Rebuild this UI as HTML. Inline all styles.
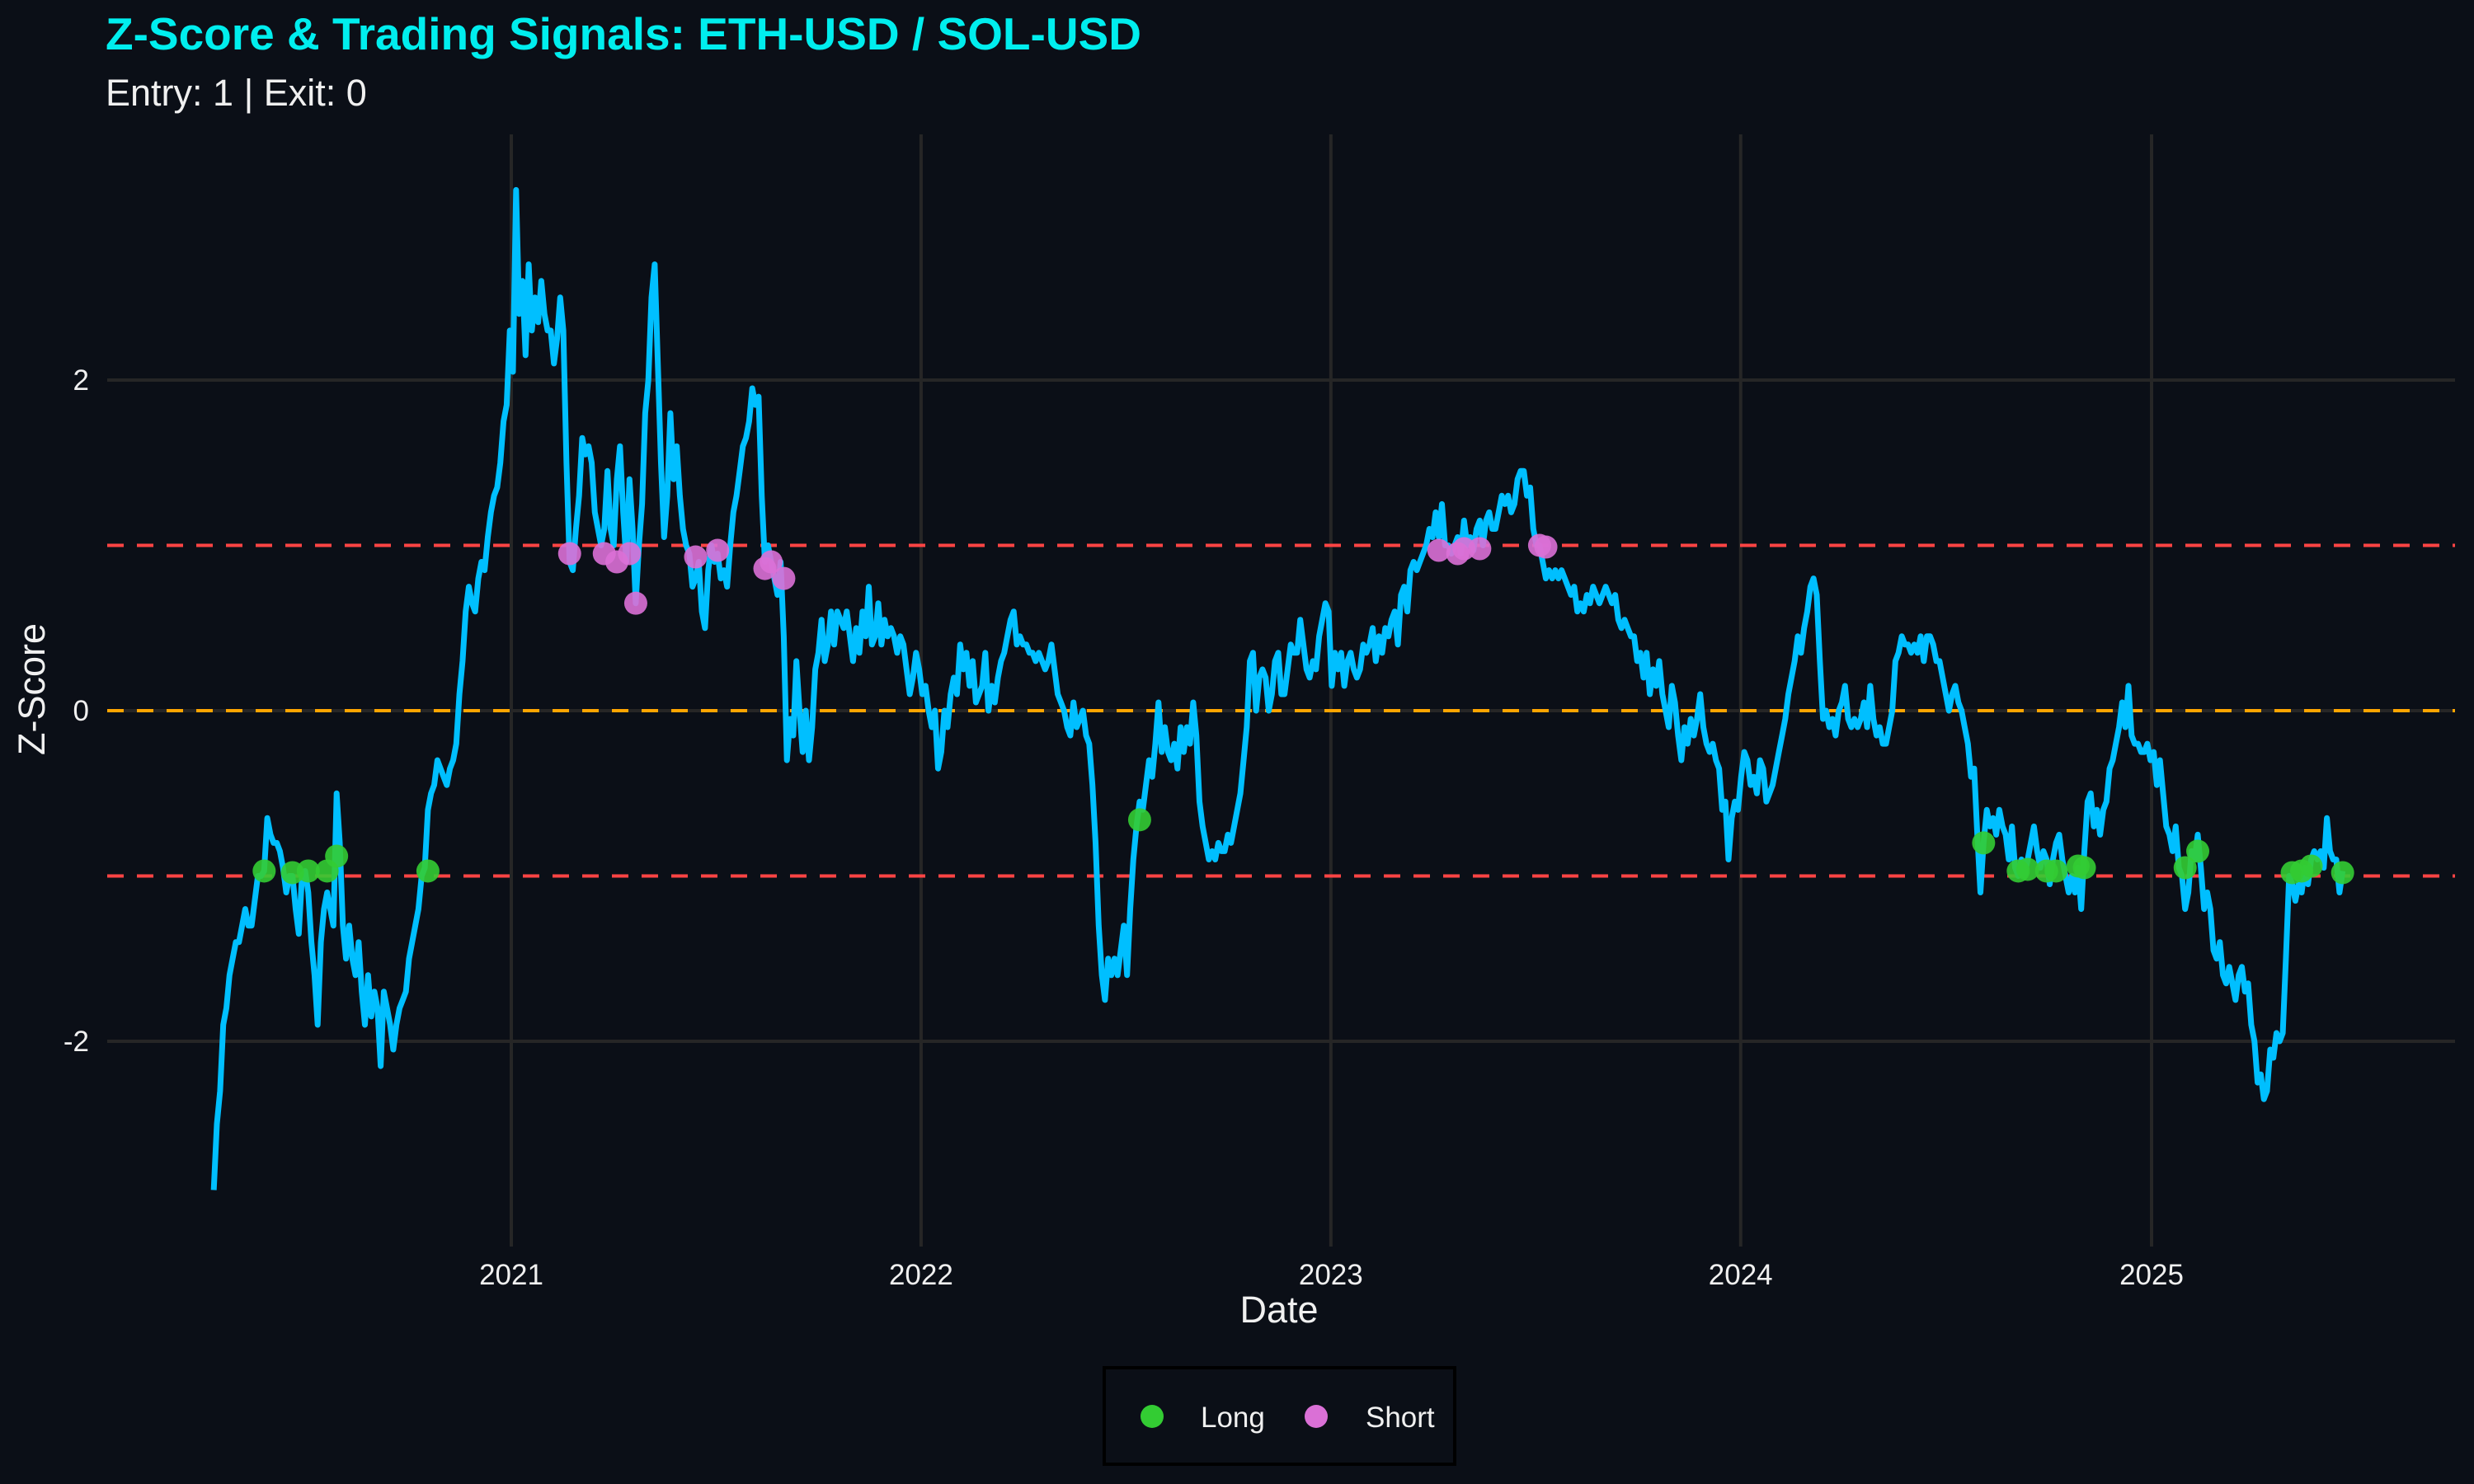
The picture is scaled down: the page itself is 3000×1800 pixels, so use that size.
<!DOCTYPE html>
<html><head><meta charset="utf-8"><title>Z-Score & Trading Signals</title>
<style>
html,body{margin:0;padding:0;background:#0b0f17;}
svg{display:block;font-family:"Liberation Sans",Arial,sans-serif;}
</style></head>
<body>
<svg id="chart" width="3000" height="1800" viewBox="0 0 3000 1800" xmlns="http://www.w3.org/2000/svg">
<rect x="0" y="0" width="3000" height="1800" fill="#0b0f17"/>
<g id="grid"></g>
<g id="refs"></g>
<g id="series"></g>
<g id="points"></g>
<g id="axes"></g>
<text x="128" y="60" font-size="55" font-weight="bold" fill="#00eeee">Z-Score &amp; Trading Signals: ETH-USD / SOL-USD</text>
<text x="128" y="128" font-size="45" fill="#f0f0f0">Entry: 1 | Exit: 0</text>
<text x="1551" y="1604" font-size="45" fill="#f0f0f0" text-anchor="middle">Date</text>
<text x="0" y="0" font-size="45" fill="#f0f0f0" text-anchor="middle" transform="translate(54,836) rotate(-90)">Z-Score</text>
<g>
<rect x="1339" y="1659" width="425" height="117" fill="none" stroke="#000" stroke-width="4"/>
<g>
<circle cx="1397" cy="1718" r="14" fill="#33cc33"/>
<text x="1456" y="1731" font-size="35" fill="#f0f0f0">Long</text>
</g>
<g>
<circle cx="1596" cy="1718" r="14" fill="#da70d6"/>
<text x="1656" y="1731" font-size="35" fill="#f0f0f0">Short</text>
</g>
</g>
</svg>
<script>
const startDate = "2020-04-11";
const stepDays = 2.805;
const zValues = [-2.9,-2.5,-2.3,-1.9,-1.8,-1.6,-1.5,-1.4,-1.4,-1.3,-1.2,-1.3,-1.3,-1.15,-1.0,-1.0,-0.97,-0.65,-0.75,-0.8,-0.8,-0.85,-0.95,-1.1,-1.0,-1.0,-1.2,-1.35,-1.0,-0.97,-1.1,-1.4,-1.6,-1.9,-1.4,-1.2,-1.1,-1.2,-1.3,-0.5,-0.8,-1.3,-1.5,-1.3,-1.5,-1.6,-1.4,-1.7,-1.9,-1.6,-1.85,-1.7,-1.8,-2.15,-1.7,-1.8,-1.9,-2.05,-1.9,-1.8,-1.75,-1.7,-1.5,-1.4,-1.3,-1.2,-1.0,-0.95,-0.6,-0.5,-0.45,-0.3,-0.35,-0.4,-0.45,-0.35,-0.3,-0.2,
0.1,0.3,0.6,0.75,0.65,0.6,0.8,0.9,0.85,1.05,1.2,1.3,1.35,1.5,1.75,1.85,
2.3,2.05,3.15,2.4,2.6,2.15,2.7,2.3,2.5,2.35,2.6,2.4,2.3,2.3,2.1,2.25,2.5,2.3,1.5,0.9,0.85,1.1,1.3,1.65,1.55,1.6,1.5,1.2,1.1,1.0,1.1,1.45,1.1,1.0,1.4,1.6,1.2,0.9,1.4,1.1,0.65,1.0,1.25,1.8,2.0,2.5,2.7,2.1,1.5,1.05,1.3,1.8,1.4,1.6,1.3,1.1,1.0,0.95,0.75,0.8,0.9,0.6,0.5,0.85,1.0,0.9,0.95,0.8,0.85,0.75,1.0,1.2,1.3,1.45,1.6,1.65,1.75,1.95,1.85,1.9,1.3,0.9,1.0,0.9,0.8,0.7,0.9,0.45,-0.3,-0.05,-0.15,0.3,0.0,-0.25,0.0,-0.3,-0.1,0.25,0.35,0.55,0.3,0.4,0.6,0.4,0.6,0.55,0.5,0.6,0.45,0.3,0.5,0.35,0.6,0.45,0.75,0.4,0.45,0.65,0.4,0.55,0.45,0.5,0.45,0.35,0.45,0.4,0.25,0.1,0.2,0.35,0.25,0.1,0.15,0.0,-0.1,0.0,-0.35,-0.25,0.0,-0.1,0.1,0.2,0.1,0.4,0.25,0.35,0.15,0.3,0.05,0.1,0.15,0.35,0.0,0.15,0.05,0.2,0.3,0.35,0.45,0.55,0.6,0.4,0.45,0.4,0.4,0.35,0.35,0.3,0.35,0.3,0.25,0.3,0.4,0.25,0.1,0.05,0.0,-0.1,-0.15,0.05,-0.1,-0.05,0.0,-0.15,-0.2,-0.45,-0.8,-1.3,-1.6,-1.75,-1.5,-1.6,-1.5,-1.6,-1.45,-1.3,-1.6,-1.2,-0.9,-0.7,-0.55,-0.6,-0.45,-0.3,-0.4,-0.2,0.05,-0.25,-0.1,-0.25,-0.3,-0.2,-0.35,-0.1,-0.25,-0.1,-0.2,0.05,-0.15,-0.55,-0.7,-0.8,-0.9,-0.85,-0.9,-0.8,-0.85,-0.85,-0.75,-0.8,-0.7,-0.6,-0.5,-0.3,-0.1,0.3,0.35,0.0,0.2,0.25,0.2,0.0,0.1,0.3,0.35,0.1,0.1,0.25,0.4,0.35,0.35,0.55,0.4,0.25,0.2,0.3,0.25,0.45,0.55,0.65,0.6,0.15,0.35,0.25,0.35,0.15,0.3,0.35,0.25,0.2,0.25,0.4,0.35,0.4,0.5,0.3,0.45,0.35,0.5,0.45,0.55,0.6,0.4,0.7,0.75,0.6,0.85,0.9,0.85,0.9,0.95,1.0,1.1,1.05,1.2,1.05,1.25,1.0,1.0,0.95,1.0,1.05,0.95,1.15,1.0,1.05,0.97,1.1,1.15,1.0,1.15,1.2,1.1,1.1,1.2,1.3,1.25,1.3,1.2,1.25,1.4,1.45,1.45,1.3,1.35,1.1,1.0,1.0,0.9,0.8,0.85,0.8,0.85,0.8,0.85,0.8,0.75,0.7,0.75,0.6,0.65,0.6,0.7,0.65,0.75,0.7,0.65,0.7,0.75,0.7,0.65,0.7,0.55,0.5,0.55,0.5,0.45,0.45,0.3,0.35,0.2,0.35,0.1,0.25,0.15,0.3,0.1,0.0,-0.1,0.15,0.05,-0.15,-0.3,-0.1,-0.2,-0.05,-0.15,-0.05,0.1,-0.1,-0.2,-0.25,-0.2,-0.3,-0.35,-0.6,-0.55,-0.9,-0.65,-0.55,-0.6,-0.4,-0.25,-0.3,-0.45,-0.4,-0.5,-0.3,-0.35,-0.55,-0.5,-0.45,-0.35,-0.25,-0.15,-0.05,0.1,0.2,0.3,0.45,0.35,0.5,0.6,0.75,0.8,0.7,0.3,-0.05,0.0,-0.1,-0.05,-0.15,0.0,0.05,0.15,-0.05,-0.1,-0.05,-0.1,-0.05,0.05,-0.1,0.15,-0.05,-0.15,-0.1,-0.2,-0.2,-0.1,0.0,0.3,0.35,0.45,0.4,0.4,0.35,0.4,0.35,0.45,0.3,0.45,0.45,0.4,0.3,0.3,0.2,0.1,0.0,0.1,0.15,0.05,0.0,-0.1,-0.2,-0.4,-0.35,-0.75,-1.1,-0.8,-0.6,-0.7,-0.65,-0.75,-0.6,-0.7,-0.75,-0.9,-0.7,-0.95,-1.0,-0.9,-1.0,-0.9,-0.8,-0.7,-0.85,-0.95,-0.85,-0.9,-1.05,-0.9,-0.8,-0.75,-0.9,-1.0,-1.1,-1.0,-1.1,-0.95,-1.2,-0.85,-0.55,-0.5,-0.7,-0.6,-0.75,-0.6,-0.55,-0.35,-0.3,-0.2,-0.1,0.05,-0.1,0.15,-0.15,-0.2,-0.2,-0.25,-0.25,-0.2,-0.3,-0.25,-0.45,-0.3,-0.5,-0.7,-0.75,-0.85,-0.7,-0.95,-1.0,-1.2,-1.1,-0.85,-0.9,-0.75,-0.95,-1.2,-1.1,-1.2,-1.45,-1.5,-1.4,-1.6,-1.65,-1.55,-1.65,-1.75,-1.6,-1.55,-1.7,-1.65,-1.9,-2.0,-2.25,-2.2,-2.35,-2.3,-2.05,-2.1,-1.95,-2.0,-1.95,-1.5,-1.0,-1.05,-1.15,-1.05,-1.1,-0.95,-1.05,-0.9,-0.85,-0.9,-0.85,-0.95,-0.65,-0.85,-0.9,-0.9,-1.1,-0.97];
const longIdx = [16,25,30,36,39,68,294,562,573,576,582,585,592,594,626,630,660,663,666,676];
const longVals = [-0.97,-0.98,-0.97,-0.97,-0.88,-0.97,-0.66,-0.8,-0.97,-0.96,-0.97,-0.97,-0.94,-0.95,-0.95,-0.85,-0.98,-0.97,-0.94,-0.98];
const shortIdx = [113,124,128,132,134,153,160,175,177,181,389,395,397,402,421,423];
const shortVals = [0.95,0.95,0.9,0.95,0.65,0.93,0.97,0.86,0.9,0.8,0.97,0.95,0.98,0.98,1.0,0.99];
const xTickYears = [2021,2022,2023,2024,2025];
const yTicks = [-2,0,2];
const entryLevel = 1, exitLevel = 0;

const NS = "http://www.w3.org/2000/svg";
const plot = {left:130, right:2977, top:163, bottom:1512};
const t0 = Date.UTC(2021,0,1), t1 = Date.UTC(2025,0,1);
function xScale(ms){ return 620 + (ms - t0) / (t1 - t0) * (2609 - 620); }
function yScale(v){ return 862 - v * 200.5; }
const startMs = Date.parse(startDate + "T00:00:00Z");
function idxMs(i){ return startMs + i * stepDays * 86400000; }
function mk(tag, attrs, parent){ const e = document.createElementNS(NS, tag); for (const k in attrs) e.setAttribute(k, attrs[k]); parent.appendChild(e); return e; }

const grid = document.getElementById("grid"), refs = document.getElementById("refs"),
      series = document.getElementById("series"), pts = document.getElementById("points"),
      axes = document.getElementById("axes");

xTickYears.forEach(yr => {
  const x = xScale(Date.UTC(yr,0,1));
  const l = mk("line", {x1:x, x2:x, y1:plot.top, y2:plot.bottom, stroke:"#262626", "stroke-width":4}, grid);
  
  
  const t = mk("text", {x:x, y:1558, "font-size":35, fill:"#f0f0f0", "text-anchor":"middle"}, axes);
  
  
  t.textContent = String(yr);
});
yTicks.forEach(v => {
  const y = yScale(v);
  const l = mk("line", {x1:plot.left, x2:plot.right, y1:y, y2:y, stroke:"#262626", "stroke-width":4}, grid);
  
  
  const t = mk("text", {x:108, y:y + 12, "font-size":35, fill:"#f0f0f0", "text-anchor":"end"}, axes);
  
  
  t.textContent = String(v);
});
[[entryLevel,"#ff4444","upper-entry-line"],[-entryLevel,"#ff4444","lower-entry-line"],[exitLevel,"#ffa500","exit-line"]].forEach(r => {
  const l = mk("line", {x1:plot.left, x2:plot.right, y1:yScale(r[0]), y2:yScale(r[0]), stroke:r[1], "stroke-width":4, "stroke-dasharray":"20 16"}, refs);
  
  
});
let d = "";
zValues.forEach((v, i) => { d += (i ? "L" : "M") + xScale(idxMs(i)).toFixed(1) + "," + yScale(v).toFixed(1); });
const path = mk("path", {d:d, fill:"none", stroke:"#00bfff", "stroke-width":7, "stroke-linejoin":"round"}, series);


longIdx.forEach((ix, k) => {
  const c = mk("circle", {cx:xScale(idxMs(ix)), cy:yScale(longVals[k]), r:14, fill:"#33cc33", "fill-opacity":0.9}, pts);
  
  
});
shortIdx.forEach((ix, k) => {
  const c = mk("circle", {cx:xScale(idxMs(ix)), cy:yScale(shortVals[k]), r:14, fill:"#da70d6", "fill-opacity":0.9}, pts);
  
  
});
</script>
</body></html>
